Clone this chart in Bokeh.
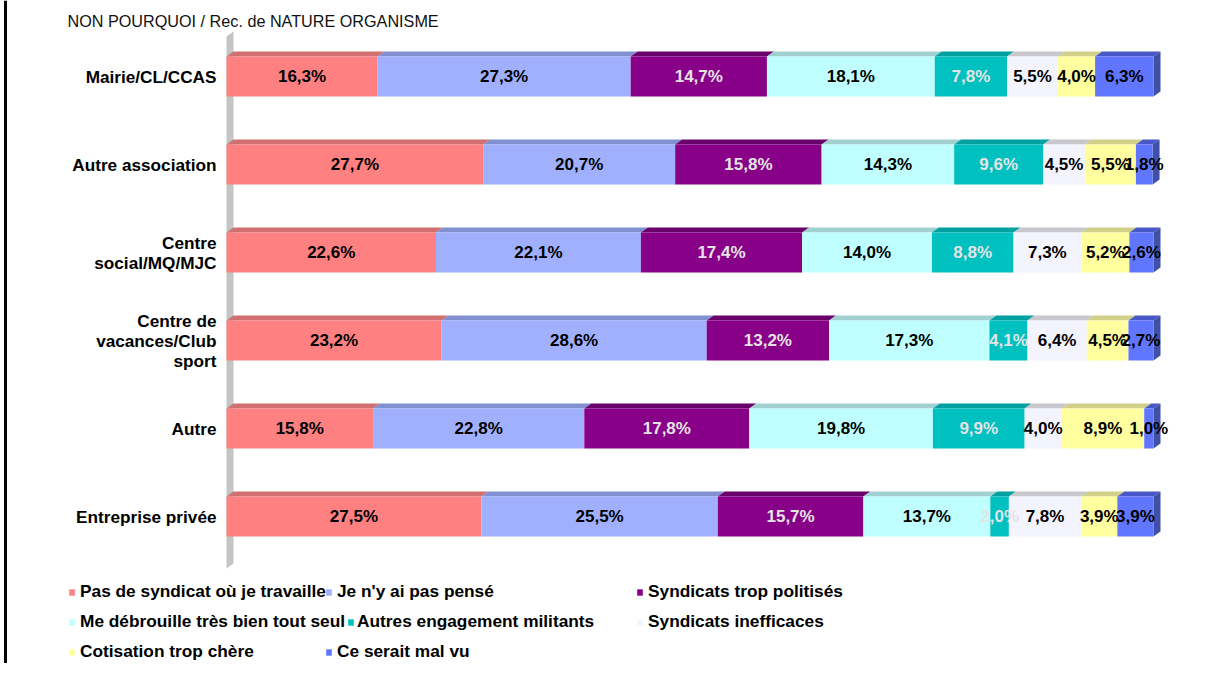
from bokeh.plotting import figure
from bokeh.models import ColumnDataSource, Legend, LegendItem, Label, Span, Range1d
from bokeh.embed import file_html
from bokeh.resources import INLINE
from bokeh.core.properties import value

# ---------------- data ----------------
title_text = "NON POURQUOI / Rec. de NATURE ORGANISME"
categories = ["Mairie/CL/CCAS", "Autre association", "Centre\nsocial/MQ/MJC",
              "Centre de\nvacances/Club\nsport", "Autre", "Entreprise privée"]
series_names = ["Pas de syndicat où je travaille", "Je n'y ai pas pensé",
                "Syndicats trop politisés", "Me débrouille très bien tout seul",
                "Autres engagement militants", "Syndicats inefficaces",
                "Cotisation trop chère", "Ce serait mal vu"]
pas_de_syndicat = [16.3, 27.7, 22.6, 23.2, 15.8, 27.5]
pas_pense = [27.3, 20.7, 22.1, 28.6, 22.8, 25.5]
trop_politises = [14.7, 15.8, 17.4, 13.2, 17.8, 15.7]
debrouille = [18.1, 14.3, 14.0, 17.3, 19.8, 13.7]
autres_engagement = [7.8, 9.6, 8.8, 4.1, 9.9, 2.0]
inefficaces = [5.5, 4.5, 7.3, 6.4, 4.0, 7.8]
cotisation = [4.0, 5.5, 5.2, 4.5, 8.9, 3.9]
mal_vu = [6.3, 1.8, 2.6, 2.7, 1.0, 3.9]
series_values = [pas_de_syndicat, pas_pense, trop_politises, debrouille,
                 autres_engagement, inefficaces, cotisation, mal_vu]

# ---------------- styles ----------------
front_colors = ["#FF8080", "#A0B0FF", "#880088", "#C0FFFF",
                "#00C0C0", "#F4F4FF", "#FFFFA0", "#6076FF"]
top_colors = ["#D07070", "#8090D0", "#6A006A", "#A0D0D0",
              "#00A0A0", "#C8C8CC", "#D0D088", "#4858C8"]
side_color = "#4050A8"
label_colors = ["black", "black", "#E4E4E4", "black",
                "#E4E4E4", "black", "black", "black"]
FONT = "Liberation Sans"

W, H = 1213, 663
PXX = 9.27          # px per percent
X0PX = 226          # px position of 0 %
PXY = 88.0          # px per category step
Y1PX = 516          # px (from top) of category position 1
X_START = -X0PX / PXX
X_END = (W - X0PX) / PXX
Y_START = 1 - (H - Y1PX) / PXY
Y_END = 1 + Y1PX / PXY

BAR_H = 40 / PXY
DX = 7 / PXX
DY = 5 / PXY

p = figure(width=W, height=H, output_backend="svg", toolbar_location=None,
           x_range=Range1d(X_START, X_END), y_range=Range1d(Y_START, Y_END),
           x_axis_location=None, y_axis_location=None, min_border=0,
           outline_line_color=None)
p.xgrid.visible = False
p.ygrid.visible = False
p.background_fill_color = "white"
p.border_fill_color = "white"

n = len(categories)
ypos = [n - i for i in range(n)]

# back wall
wall_bottom = 1 - 52 / PXY
wall_top = 1 + 480 / PXY
p.patch([0, DX, DX, 0], [wall_bottom, wall_bottom + DY, wall_top + DY, wall_top],
        fill_color="#C4C4C4", line_color=None)

# cumulative positions
lefts, rights = [], []
cum = [0.0] * n
for vals in series_values:
    l = list(cum)
    r = [c + v for c, v in zip(cum, vals)]
    lefts.append(l)
    rights.append(r)
    cum = r

# top faces
for k in range(len(series_values)):
    xs, ys = [], []
    for i in range(n):
        t = ypos[i] + BAR_H / 2
        l, r = lefts[k][i], rights[k][i]
        xs.append([l, r, r + DX, l + DX])
        ys.append([t, t, t + DY, t + DY])
    p.patches(xs, ys, fill_color=top_colors[k], line_color=None)

# side faces (rightmost segment)
xs, ys = [], []
for i in range(n):
    r = rights[-1][i]
    b = ypos[i] - BAR_H / 2
    t = ypos[i] + BAR_H / 2
    xs.append([r, r + DX, r + DX, r])
    ys.append([b, b + DY, t + DY, t])
p.patches(xs, ys, fill_color=side_color, line_color=None)

# front faces
renderers = []
for k, vals in enumerate(series_values):
    src = ColumnDataSource(dict(y=ypos, left=lefts[k], right=rights[k]))
    r = p.hbar(y="y", left="left", right="right", height=BAR_H, source=src,
               fill_color=front_colors[k], line_color=None)
    renderers.append(r)

# value labels
for k, vals in enumerate(series_values):
    src = ColumnDataSource(dict(
        x=[(a + b) / 2 for a, b in zip(lefts[k], rights[k])],
        y=ypos,
        t=[f"{v:.1f}%".replace(".", ",") for v in vals]))
    p.text(x="x", y="y", text="t", source=src, text_align="center",
           text_baseline="middle", text_font=value(FONT), text_font_style="bold",
           text_font_size="17px", text_color=label_colors[k])

# category labels
csrc = ColumnDataSource(dict(x=[0] * n, y=ypos, t=categories))
p.text(x="x", y="y", text="t", source=csrc, x_offset=-10, text_align="right",
       text_baseline="middle", text_font=value(FONT), text_font_style="bold",
       text_font_size="17.2px", text_color="black", text_line_height=1.0)

# title
p.add_layout(Label(x=67, y=H - 20, x_units="screen", y_units="screen",
                   text=title_text, text_font=FONT, text_font_size="16.2px",
                   text_baseline="middle", text_color="#111111"))

# left frame line
p.add_layout(Span(location=X_START + 5 / PXX, dimension="height",
                  line_color="black", line_width=3))

# legend: one entry per legend box, laid out in flow like the original
# (series index, glyph left px, text centre px from top)
legend_layout = [(0, 68, 592), (1, 325, 592), (2, 636, 592),
                 (3, 68, 622), (4, 347, 622), (5, 636, 622),
                 (6, 68, 652), (7, 325, 652)]
for k, gx, ty in legend_layout:
    standoff = 3 if k == 4 else 5
    leg = Legend(items=[LegendItem(label=series_names[k], renderers=[renderers[k]])],
                 location=(gx, H - (ty + 10)), orientation="vertical",
                 glyph_width=7, glyph_height=8, label_standoff=standoff, spacing=0,
                 padding=0, margin=0, border_line_color=None,
                 background_fill_alpha=0, label_text_font=FONT,
                 label_text_font_style="bold", label_text_font_size="17.3px",
                 label_height=20, label_text_color="black")
    p.add_layout(leg, "center")

open("out.html", "w").write(file_html(p, INLINE))
